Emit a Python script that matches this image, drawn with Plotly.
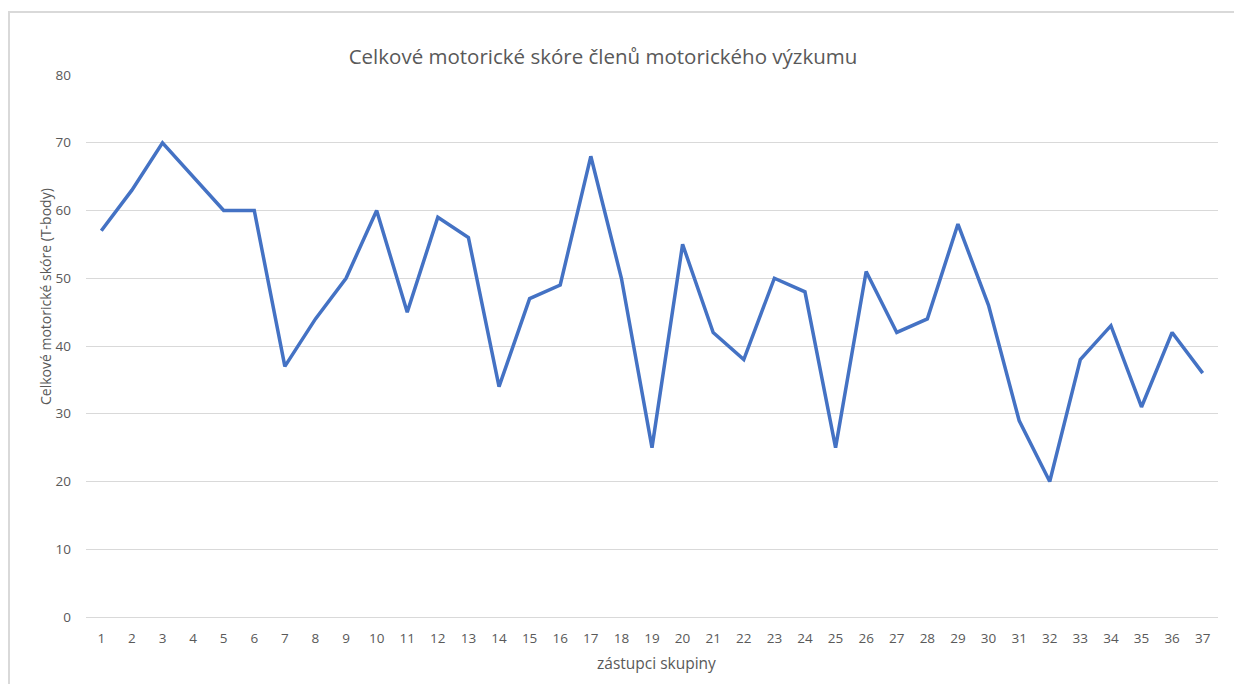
import plotly.graph_objects as go

members = list(range(1, 38))
scores = [57, 63, 70, 65, 60, 60, 37, 44, 50, 60, 45, 59, 56, 34, 47, 49, 68, 50, 25, 55,
          42, 38, 50, 48, 25, 51, 42, 44, 58, 46, 29, 20, 38, 43, 31, 42, 36]
y_ticks = [0, 10, 20, 30, 40, 50, 60, 70, 80]

W, H = 1242, 684
OFF = 8  # page body margin
px_l, px_r = 86 - OFF, 1218 - OFF
px_top, px_bot = 75 - OFF, 617 - OFF

FONT = "Open Sans"
GREY = "#595959"

fig = go.Figure()
fig.add_trace(go.Scatter(
    x=members, y=scores, mode="lines",
    line=dict(color="#4472C4", width=3.5),
    showlegend=False, hoverinfo="x+y",
))

fig.update_layout(
    width=W, height=H,
    margin=dict(l=0, r=0, t=0, b=0),
    paper_bgcolor="white", plot_bgcolor="white",
    font=dict(family=FONT, color=GREY),
    title=dict(
        text="Celkové motorické skóre členů motorického výzkumu",
        x=(603 - OFF) / W, xanchor="center", y=1 - (57 - OFF) / H, yanchor="middle",
        font=dict(family=FONT, size=20.5, color=GREY),
    ),
    xaxis=dict(
        domain=[px_l / W, px_r / W],
        range=[0.5, 37.5],
        tickvals=members, ticktext=[str(m) for m in members],
        showgrid=False, zeroline=False,
        showline=False,
        ticks="", ticklabelstandoff=11,
        tickfont=dict(family=FONT, size=13.5, color=GREY),
        automargin=False,
    ),
    yaxis=dict(
        domain=[1 - px_bot / H, 1 - px_top / H],
        range=[0, 80],
        tickvals=y_ticks,
        showgrid=True, gridcolor="#d9d9d9", gridwidth=1,
        zeroline=True, zerolinecolor="#d9d9d9", zerolinewidth=1,
        showline=False, ticks="", ticklabelstandoff=14,
        tickfont=dict(family=FONT, size=13.5, color=GREY),
        automargin=False,
    ),
    annotations=[
        dict(text="zástupci skupiny", xref="paper", yref="paper",
             x=(656 - OFF) / W, y=1 - (663 - OFF) / H,
             xanchor="center", yanchor="middle", showarrow=False,
             font=dict(family=FONT, size=15.5, color=GREY)),
        dict(text="Celkové motorické skóre (T-body)", xref="paper", yref="paper",
             x=(45 - OFF) / W, y=1 - (297 - OFF) / H, textangle=-90,
             xanchor="center", yanchor="middle", showarrow=False,
             font=dict(family=FONT, size=14, color=GREY)),
    ],
    shapes=[dict(
        type="rect", xref="paper", yref="paper",
        x0=(9 - OFF) / W, x1=(1236 - OFF) / W, y0=-0.05, y1=1 - (12 - OFF) / H,
        line=dict(color="#d9d9d9", width=2), fillcolor="rgba(0,0,0,0)",
        layer="below",
    )],
)

fig.write_html("out.html")
